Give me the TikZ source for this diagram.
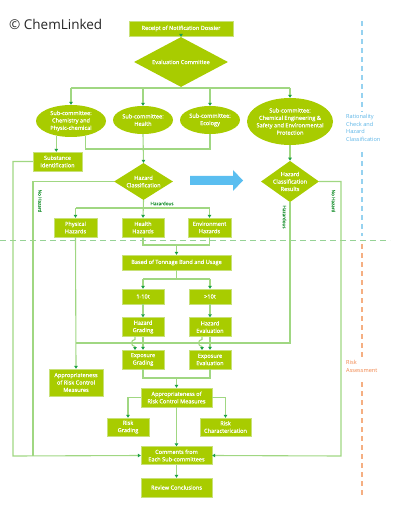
\documentclass[tikz,border=0pt]{standalone}
\usepackage{fontspec}
\setmainfont{Open Sans}
\newfontfamily\boxfont[FakeBold=0.7]{Open Sans}
\usetikzlibrary{arrows.meta,shapes.geometric}
\definecolor{boxg}{RGB}{168,204,0}
\definecolor{boxedge}{RGB}{200,225,120}
\definecolor{lineg}{RGB}{160,215,130}
\definecolor{arrg}{RGB}{30,160,70}
\definecolor{lblg}{RGB}{40,150,60}
\definecolor{dashg}{RGB}{150,210,150}
\definecolor{blueline}{RGB}{150,210,240}
\definecolor{bluetxt}{RGB}{90,180,230}
\definecolor{orangeline}{RGB}{245,175,130}
\definecolor{orangetxt}{RGB}{240,130,70}
\definecolor{bigarrow}{RGB}{90,190,240}
\begin{document}
\begin{tikzpicture}[x=1pt,y=-1pt,
  txt/.style={text=white,font=\boxfont\fontsize{5.6}{7.4}\selectfont,align=center},
  box/.style={txt,rectangle,fill=boxg,draw=boxedge,line width=0.4pt,inner sep=0pt},
  ell/.style={txt,ellipse,fill=boxg,inner xsep=-5pt,inner ysep=-3pt},
  dia/.style={txt,diamond,fill=boxg,inner sep=-3pt},
  conn/.style={draw=lineg,line width=1.1pt},
  arr/.style={conn,-{Triangle[width=3.6pt,length=3pt,color=arrg]}},
  lbl/.style={text=lblg,font=\boxfont\fontsize{4.6}{5}\selectfont,inner sep=0pt},
  side/.style={font=\fontsize{5.6}{7.7}\selectfont,align=left,inner sep=0pt,anchor=north west},
]
\useasboundingbox (0,0) rectangle (400,510);

% side dashed lines
\draw[dashg,line width=1.6pt,dash pattern=on 6pt off 4pt] (0,240.5) -- (390,240.5);
\draw[blueline,line width=1.5pt,dash pattern=on 5pt off 4pt] (362,21) -- (362,112);
\draw[blueline,line width=1.5pt,dash pattern=on 5pt off 4pt] (362,152) -- (362,236);
\draw[orangeline,line width=1.5pt,dash pattern=on 5pt off 4pt] (362,244) -- (362,357);
\draw[orangeline,line width=1.5pt,dash pattern=on 5pt off 4pt] (362,382) -- (362,497);
\node[side,text=bluetxt] (rat) at (346,114) {Rationality\\Check and\\Hazard\\Classification};
\node[side,text=orangetxt] (risk) at (346,360) {Risk\\Assessment};

% title
\node[anchor=west,inner sep=0pt,text=black!85,font=\fontsize{13.5}{15}\selectfont] (title) at (9,24) {© ChemLinked};

% nodes
\node[box,minimum width=104pt,minimum height=15pt] (rec) at (181,28.5) {Receipt of Notification Dossier};
\node[dia,minimum width=94pt,minimum height=30pt] (eval) at (181,62) {Evaluation Committee};
\node[ell,minimum width=70pt,minimum height=32pt] (chem) at (71,121) {Sub-committee:\\Chemistry and\\Physic-chemical};
\node[ell,minimum width=60pt,minimum height=28pt] (hel) at (143,120) {Sub-committee:\\Health};
\node[ell,minimum width=60pt,minimum height=28pt] (eco) at (210,120) {Sub-committee:\\Ecology};
\node[ell,minimum width=86pt,minimum height=47pt] (ce) at (290,121.5) {Sub-committee:\\Chemical Engineering \&\\Safety and Environmental\\Protection};
\node[box,minimum width=49pt,minimum height=19pt] (subst) at (57.5,161.5) {Substance\\Identification};
\node[dia,minimum width=59pt,minimum height=37pt] (hz) at (143.5,181.5) {Hazard\\Classification};
\node[dia,minimum width=58pt,minimum height=37pt] (hcr) at (290,181.5) {Hazard\\Classification\\Results};
\node[box,minimum width=43pt,minimum height=19pt] (ph) at (75.5,227.5) {Physical\\Hazards};
\node[box,minimum width=42pt,minimum height=19pt] (hh) at (143,227.5) {Health\\Hazards};
\node[box,minimum width=43pt,minimum height=19pt] (eh) at (209.5,227.5) {Environment\\Hazards};
\node[box,minimum width=109pt,minimum height=15pt] (ton) at (176.5,262.5) {Based of Tonnage Band and Usage};
\node[box,minimum width=42pt,minimum height=15pt] (t1) at (143,296.5) {1-10t};
\node[box,minimum width=42pt,minimum height=15pt] (t2) at (210,296.5) {>10t};
\node[box,minimum width=42pt,minimum height=19pt] (hg) at (143,327) {Hazard\\Grading};
\node[box,minimum width=42pt,minimum height=19pt] (he) at (210,327) {Hazard\\Evaluation};
\node[box,minimum width=42pt,minimum height=19pt] (eg) at (143,359.5) {Exposure\\Grading};
\node[box,minimum width=42pt,minimum height=19pt] (ee) at (210,359.5) {Exposure\\Evaluation};
\node[box,minimum width=54pt,minimum height=27pt] (appl) at (76,382.5) {Appropriateness\\of Risk Control\\Measures};
\node[box,minimum width=71pt,minimum height=19pt] (appc) at (176.5,397.5) {Appropriateness of\\Risk Control Measures};
\node[box,minimum width=42pt,minimum height=18pt] (rg) at (128,427) {Risk\\Grading};
\node[box,minimum width=51pt,minimum height=18pt] (rc) at (225.5,427) {Risk\\Characterication};
\node[box,minimum width=71pt,minimum height=18pt] (comm) at (176.5,455.5) {Comments from\\Each Sub-committees};
\node[box,minimum width=71pt,minimum height=19pt] (rev) at (176.5,487.5) {Review Conclusions};

% big blue arrow
\fill[bigarrow] (190,176) -- (233,176) -- (233,170) -- (243,180.5) -- (233,191) -- (233,185) -- (190,185) -- cycle;

% connectors top
\draw[arr] (rec) -- (eval);
\draw[conn] (eval.south) -- (181,88);
\draw[conn] (71,88) -- (290,88);
\draw[arr] (chem.north |- 0,88) -- (chem.north);
\draw[arr] (hel.north |- 0,88) -- (hel.north);
\draw[arr] (eco.north |- 0,88) -- (eco.north);
\draw[arr] (ce.north |- 0,88) -- (ce.north);

\draw[arr] (chem.225) -- (chem.225 |- subst.north);
\draw[conn] (chem.315) |- (eco.south |- 0,149) -- (eco.south);
\draw[arr] (hel.south) -- (hz.north);
\draw[arr] (ce.south) -- (hcr.north);

% left no-hazard lines
\draw[conn] (hz.west) -| (33,456);
\draw[arr] (subst.west) -| (13,456) -- (comm.west);
\node[lbl,rotate=-90] (nh1) at (40,201) {No Hazard};

% hazardous branch
\draw[arr] (hz.south) -- (hh.north);
\draw[conn] (76,208) -- (210,208);
\draw[arr] (ph.north |- 0,208) -- (ph.north);
\draw[arr] (eh.north |- 0,208) -- (eh.north);
\node[lbl] (hzd) at (162,203.5) {Hazardous};

\draw[conn] (hh.south) |- (eh.south |- 0,245) -- (eh.south);
\draw[arr] (ton.north |- 0,245) -- (ton.north);
\draw[conn] (ton.south) -- (176.5,279);
\draw[conn] (143,279) -- (210,279);
\draw[arr] (t1.north |- 0,279) -- (t1.north);
\draw[arr] (t2.north |- 0,279) -- (t2.north);
\draw[arr] (t1) -- (hg);
\draw[arr] (t2) -- (he);

% physical hazards and HCR hazardous line
\draw[arr] (ph.south) -- (appl.north);
\draw[conn] (hcr.south) |- (76,343);
\node[lbl,rotate=-90] (hzd2) at (284.5,217) {Hazardous};

\draw[arr] (hg) -- (eg);
\draw[arr] (he) -- (ee);
\draw[arr] (135,336.5) -- (135,339.5) .. controls (130.5,339.5) and (130.5,346.5) .. (135,346.5) -- (135,350);
\draw[arr] (202,336.5) -- (202,339.5) .. controls (197.5,339.5) and (197.5,346.5) .. (202,346.5) -- (202,350);

\draw[conn] (eg.south) |- (ee.south |- 0,378) -- (ee.south);
\draw[arr] (appc.north |- 0,378) -- (appc.north);

% right no-hazard line
\draw[arr] (hcr.east) -| (341,456) -- (comm.east);
\node[lbl,rotate=-90] (nh2) at (333.5,201) {No Hazard};

% bottom part
\draw[arr] (appc.west) -| (rg.north);
\draw[arr] (appc.east) -| (rc.north);
\draw[arr] (appc) -- (comm);
\draw[arr] (comm) -- (rev);
\end{tikzpicture}
\end{document}
